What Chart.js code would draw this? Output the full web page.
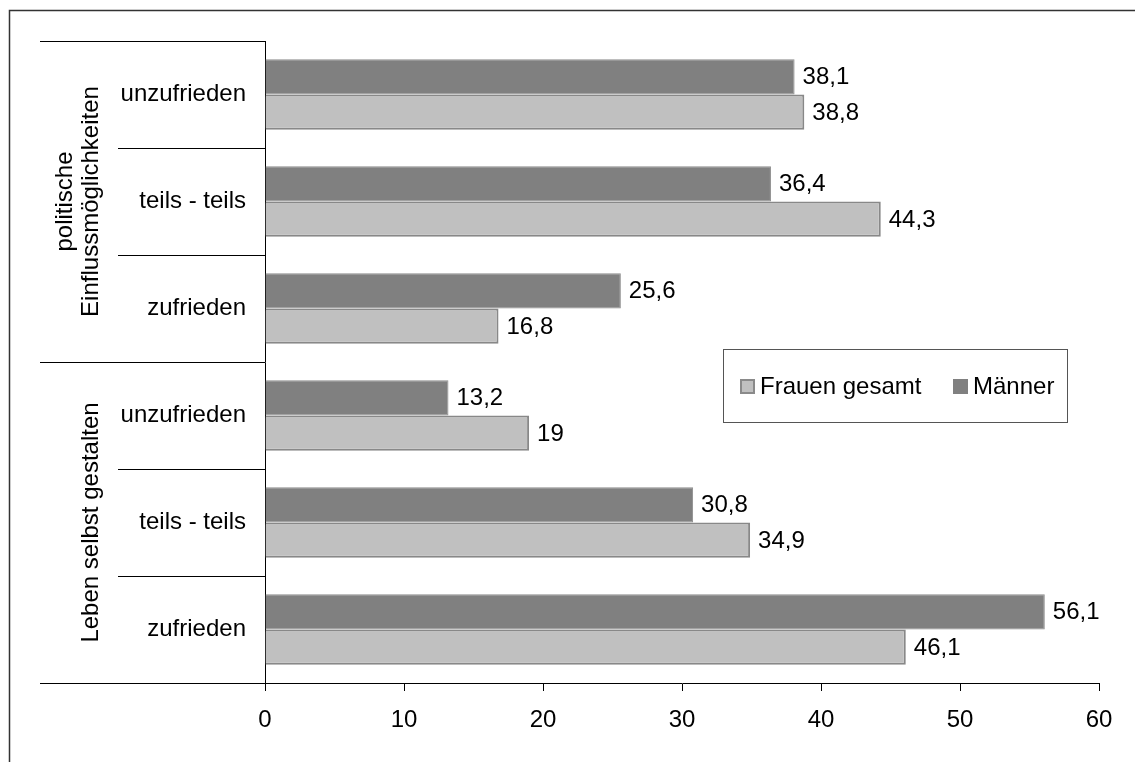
<!DOCTYPE html>
<html>
<head>
<meta charset="utf-8">
<script src="https://cdn.jsdelivr.net/npm/chart.js@4.4.0/dist/chart.umd.min.js"></script>
<style>
  html, body { margin: 0; padding: 0; background: #fff; }
  #wrap { width: 1135px; height: 762px; position: relative; }
</style>
</head>
<body>
<div id="wrap"><canvas id="chart"></canvas></div>
<script>
const categories = ['unzufrieden', 'teils - teils', 'zufrieden', 'unzufrieden', 'teils - teils', 'zufrieden'];
const groups = [
  { label: ['politische', 'Einflussmöglichkeiten'], from: 0, to: 2 },
  { label: ['Leben selbst gestalten'], from: 3, to: 5 },
];
const maenner = [38.1, 36.4, 25.6, 13.2, 30.8, 56.1];
const frauen = [38.8, 44.3, 16.8, 19, 34.9, 46.1];
const xTicks = [0, 10, 20, 30, 40, 50, 60];

const FONT = "'Liberation Sans', Arial, sans-serif";
const SIZE = 24;

// frame, category separators, group labels and legend box
const decorations = {
  id: 'decorations',
  afterDraw(chart) {
    const ctx = chart.ctx;
    const y = chart.scales.y;
    const area = chart.chartArea;
    const half = (y.getPixelForValue(1) - y.getPixelForValue(0)) / 2;
    ctx.save();
    ctx.strokeStyle = '#333';
    ctx.lineWidth = 1.5;
    ctx.strokeRect(9.5, 10.5, 1200, 900);

    ctx.strokeStyle = '#000';
    ctx.lineWidth = 1;
    categories.forEach((c, i) => {
      const yy = Math.round(y.getPixelForValue(i) - half) + 0.5;
      const isGroupEdge = groups.some((g) => g.from === i);
      ctx.beginPath();
      ctx.moveTo(isGroupEdge ? 40 : 118, yy);
      ctx.lineTo(area.left, yy);
      ctx.stroke();
    });
    const yb = Math.round(area.bottom) + 0.5;
    ctx.beginPath();
    ctx.moveTo(40, yb);
    ctx.lineTo(area.left, yb);
    ctx.stroke();

    ctx.fillStyle = '#000';
    ctx.font = SIZE + 'px ' + FONT;
    ctx.textAlign = 'center';
    ctx.textBaseline = 'middle';
    groups.forEach((g) => {
      const mid = (y.getPixelForValue(g.from) + y.getPixelForValue(g.to)) / 2;
      const n = g.label.length;
      g.label.forEach((line, k) => {
        const x = 91 - (n - 1 - k) * 26;
        ctx.save();
        ctx.translate(x, mid);
        ctx.rotate(-Math.PI / 2);
        ctx.fillText(line, 0, 0);
        ctx.restore();
      });
    });

    // legend box
    const lx = 723, ly = 349, lw = 344, lh = 73;
    ctx.strokeStyle = '#555';
    ctx.strokeRect(lx + 0.5, ly + 0.5, lw, lh);
    const items = [
      { text: 'Frauen gesamt', fill: '#c0c0c0', border: '#8a8a8a', x: 740 },
      { text: 'Männer', fill: '#808080', border: '#808080', x: 953 },
    ];
    ctx.textAlign = 'left';
    items.forEach((it) => {
      ctx.fillStyle = it.fill;
      ctx.fillRect(it.x, 379, 15, 15);
      ctx.strokeStyle = it.border;
      ctx.lineWidth = 2;
      ctx.strokeRect(it.x + 1, 380, 13, 13);
      ctx.fillStyle = '#000';
      ctx.fillText(it.text, it.x + 20, 387);
    });
    ctx.restore();
  },
};

// value labels after each bar
const valueLabels = {
  id: 'valueLabels',
  afterDatasetsDraw(chart) {
    const ctx = chart.ctx;
    ctx.save();
    ctx.fillStyle = '#000';
    ctx.font = SIZE + 'px ' + FONT;
    ctx.textAlign = 'left';
    ctx.textBaseline = 'middle';
    chart.data.datasets.forEach((ds, di) => {
      chart.getDatasetMeta(di).data.forEach((bar, i) => {
        const txt = String(ds.data[i]).replace('.', ',');
        ctx.fillText(txt, bar.x + 8, bar.y + 1);
      });
    });
    ctx.restore();
  },
};

new Chart(document.getElementById('chart'), {
  type: 'bar',
  data: {
    labels: categories,
    datasets: [
      {
        label: 'Männer',
        data: maenner,
        backgroundColor: '#808080',
        borderColor: '#8c8c8c',
        borderWidth: 1,
        barPercentage: 1,
        categoryPercentage: 0.66,
      },
      {
        label: 'Frauen gesamt',
        data: frauen,
        backgroundColor: '#c0c0c0',
        borderColor: '#888888',
        borderWidth: 2,
        barPercentage: 1,
        categoryPercentage: 0.66,
      },
    ],
  },
  options: {
    indexAxis: 'y',
    responsive: true,
    maintainAspectRatio: false,
    animation: false,
    layout: { padding: { left: 0, top: 41, right: 36, bottom: 0 } },
    plugins: {
      legend: { display: false },
      tooltip: { enabled: false },
    },
    scales: {
      x: {
        min: 0,
        max: 60,
        afterBuildTicks: (scale) => {
          scale.ticks = xTicks.map((v) => ({ value: v }));
        },
        afterFit: (scale) => {
          scale.height = 79;
        },
        grid: { drawOnChartArea: false, drawTicks: true, tickLength: 8, color: '#000' },
        border: { color: '#000' },
        ticks: { color: '#000', font: { family: FONT, size: SIZE }, padding: 15 },
      },
      y: {
        afterFit: (scale) => {
          scale.width = 265;
        },
        grid: { display: false, drawTicks: false },
        border: { display: true, color: '#000' },
        ticks: { color: '#000', font: { family: FONT, size: SIZE }, padding: 19, crossAlign: 'near' },
      },
    },
  },
  plugins: [decorations, valueLabels],
});
</script>
</body>
</html>
